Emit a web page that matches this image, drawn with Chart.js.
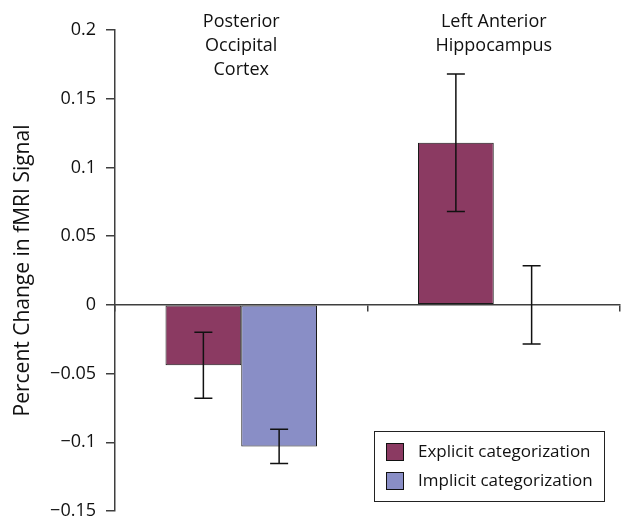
<!DOCTYPE html>
<html>
<head>
<meta charset="utf-8">
<script src="https://cdn.jsdelivr.net/npm/chart.js@4.4.1/dist/chart.umd.min.js"></script>
<style>
  html, body { margin: 0; padding: 0; background: #fff; }
  #wrap { width: 624px; height: 519px; position: relative; }
</style>
</head>
<body>
<div id="wrap"><canvas id="fmri-chart"></canvas></div>
<script>
// regions on the x axis (one label line per entry)
var regions = [
  ['Posterior', 'Occipital', 'Cortex'],
  ['Left Anterior', 'Hippocampus']
];
// mean percent change per region
var explicitValues = [-0.044, 0.118];
var implicitValues = [-0.103, 0];
// error bar half-lengths
var explicitErrors = [0.024, 0.05];
var implicitErrors = [0.0125, 0.0285];
// y axis ticks
var yMin = -0.15;
var yMax = 0.2;
var yStep = 0.05;

var FONT = '"Open Sans", "DejaVu Sans", sans-serif';
var AXIS_COLOR = '#3f3f3f';

function formatTick(v) {
  var s = String(Number(v.toFixed(2)));
  return s.replace('-', '\u2212');
}

// --error bars, drawn from the y scale
var errorBars = {
  id: 'errorBars',
  afterDatasetsDraw: function(chart) {
    var ctx = chart.ctx;
    var y = chart.scales.y;
    ctx.save();
    ctx.strokeStyle = '#111';
    ctx.lineWidth = 1.5;
    chart.data.datasets.forEach(function(ds, i) {
      var meta = chart.getDatasetMeta(i);
      meta.data.forEach(function(bar, j) {
        var v = ds.data[j], e = ds.errors[j];
        var top = y.getPixelForValue(v + e);
        var bottom = y.getPixelForValue(v - e);
        var cap = 9;
        ctx.beginPath();
        ctx.moveTo(bar.x, top); ctx.lineTo(bar.x, bottom);
        ctx.moveTo(bar.x - cap, top); ctx.lineTo(bar.x + cap, top);
        ctx.moveTo(bar.x - cap, bottom); ctx.lineTo(bar.x + cap, bottom);
        ctx.stroke();
      });
    });
    ctx.restore();
  }
};

// --region names above the groups
var regionLabels = {
  id: 'regionLabels',
  afterDraw: function(chart) {
    var ctx = chart.ctx;
    var x = chart.scales.x;
    ctx.save();
    ctx.font = '18px ' + FONT;
    ctx.fillStyle = '#111';
    ctx.textAlign = 'center';
    ctx.textBaseline = 'middle';
    regions.forEach(function(lines, i) {
      var cx = x.getPixelForValue(i);
      lines.forEach(function(line, k) {
        ctx.fillText(line, cx, chart.chartArea.top - 8 + k * 24);
      });
    });
    ctx.restore();
  }
};

// --boxed legend in the lower right corner
var boxLegend = {
  id: 'boxLegend',
  afterDraw: function(chart) {
    var ctx = chart.ctx;
    var area = chart.chartArea;
    var w = 230, h = 70;
    var left = area.right - 16 - w;
    var top = area.bottom - 10 - h;
    ctx.save();
    ctx.fillStyle = '#fff';
    ctx.fillRect(left, top, w, h);
    ctx.strokeStyle = '#222';
    ctx.lineWidth = 1;
    ctx.strokeRect(left + 0.5, top + 0.5, w, h);
    ctx.font = '17px ' + FONT;
    ctx.textBaseline = 'middle';
    chart.data.datasets.forEach(function(ds, i) {
      var cy = top + 21 + i * 29;
      ctx.fillStyle = ds.backgroundColor;
      ctx.fillRect(left + 12, cy - 9, 18, 18);
      ctx.strokeStyle = '#111';
      ctx.strokeRect(left + 12.5, cy - 8.5, 17, 17);
      ctx.fillStyle = '#111';
      ctx.fillText(ds.label, left + 44, cy);
    });
    ctx.restore();
  }
};

new Chart(document.getElementById('fmri-chart'), {
  type: 'bar',
  data: {
    labels: regions,
    datasets: [
      {
        label: 'Explicit categorization',
        data: explicitValues,
        errors: explicitErrors,
        backgroundColor: '#8b3a62',
        borderColor: '#1a1a1a',
        borderWidth: 1,
        borderSkipped: false
      },
      {
        label: 'Implicit categorization',
        data: implicitValues,
        errors: implicitErrors,
        backgroundColor: '#898ec6',
        borderColor: '#1a1a1a',
        borderWidth: 1,
        borderSkipped: false
      }
    ]
  },
  options: {
    responsive: true,
    maintainAspectRatio: false,
    animation: false,
    categoryPercentage: 0.6,
    barPercentage: 1,
    layout: { padding: { top: 30, right: 4, bottom: 8, left: 0 } },
    plugins: {
      legend: { display: false },
      tooltip: { enabled: false }
    },
    scales: {
      x: {
        position: { y: 0 },
        offset: true,
        afterFit: function(scale) { scale.height = 0; },
        border: { display: true, color: AXIS_COLOR, width: 1.5 },
        grid: { drawOnChartArea: false, drawTicks: true, tickLength: 6, color: AXIS_COLOR, lineWidth: 1.5 },
        ticks: { display: false }
      },
      y: {
        min: yMin,
        max: yMax,
        afterFit: function(scale) {
          scale.width = 115;
          scale.paddingTop = 0;
          scale.paddingBottom = 0;
        },
        border: { display: true, color: AXIS_COLOR, width: 1.5 },
        grid: { drawOnChartArea: false, drawTicks: true, tickLength: 9, color: AXIS_COLOR, lineWidth: 1.5 },
        ticks: {
          stepSize: yStep,
          padding: 10,
          color: '#111',
          font: { family: FONT, size: 18 },
          callback: function(v) { return formatTick(v); }
        },
        title: {
          display: true,
          text: 'Percent Change in fMRI Signal',
          color: '#111',
          font: { family: FONT, size: 21 },
          padding: { top: 10, bottom: 0 }
        }
      }
    }
  },
  plugins: [errorBars, regionLabels, boxLegend]
});
</script>
</body>
</html>
